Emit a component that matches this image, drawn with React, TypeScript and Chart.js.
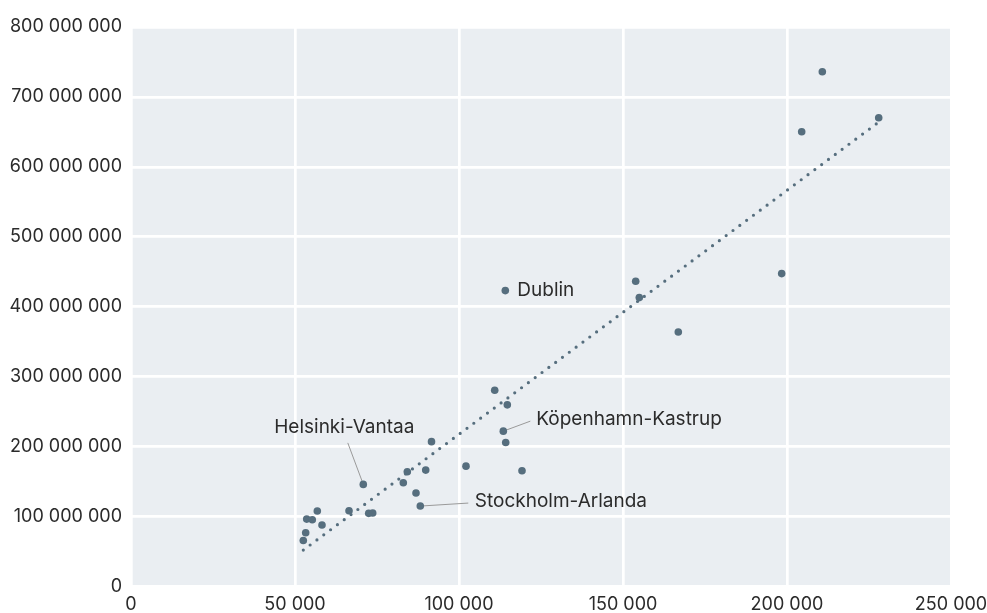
import React, { useEffect, useRef } from "react";
import { Chart, registerables } from "chart.js";

Chart.register(...registerables);

// Data
const xValues = [
  56800, 53570, 55270, 58230, 53260, 52530, 66470, 72470, 73690, 70820,
  83020, 84240, 86890, 88200, 89850, 91620, 102130, 110890, 114730, 113510,
  114240, 119210, 114120, 153870, 154970, 166860, 198380, 204480, 210770, 227960,
];
const yValues = [
  107.9e6, 96.4e6, 95.4e6, 87.9e6, 76.9e6, 65.7e6, 108.3e6, 104.6e6, 105e6, 146e6,
  148.3e6, 164e6, 133.6e6, 115e6, 166.4e6, 207.1e6, 172.1e6, 280.7e6, 259.7e6, 222.1e6,
  206e6, 165.4e6, 423.1e6, 436.4e6, 413.1e6, 363.9e6, 447.4e6, 650.3e6, 736e6, 670.3e6,
];
const trendX = [52530, 227960];
const trendY = [52.1e6, 664e6];

const labelNames = ["Dublin", "Helsinki-Vantaa", "Köpenhamn-Kastrup", "Stockholm-Arlanda"];
const labelPointIndex = [22, 9, 19, 13];

const xTicks = [0, 50000, 100000, 150000, 200000, 250000];
const yTicks = [0, 100e6, 200e6, 300e6, 400e6, 500e6, 600e6, 700e6, 800e6];

// Label placement (pixel offsets from the point)
const labelLayout = [
  { tx: 12, ty: 0, align: "left", line: null },
  { tx: -19, ty: -57.5, align: "center", line: [-15.5, -41.5] },
  { tx: 33, ty: -11.5, align: "left", line: [27, -10] },
  { tx: 54.5, ty: -4.5, align: "left", line: [48, -3] },
];

const FONT = "Inter, 'Noto Sans', sans-serif";
const POINT_COLOR = "#566e7e";
const TEXT_COLOR = "#2b2b2b";

const fmt = (v: number) => String(Math.round(v)).replace(/\B(?=(\d{3})+(?!\d))/g, " ");

export default function App() {
  const ref = useRef<HTMLCanvasElement | null>(null);

  useEffect(() => {
    document.body.style.margin = "0";
    const canvas = ref.current;
    if (!canvas) return;

    const bgPlugin = {
      id: "plotBg",
      beforeDraw(chart: any) {
        const { ctx, chartArea } = chart;
        ctx.save();
        ctx.fillStyle = "#eaeef2";
        ctx.fillRect(chartArea.left, chartArea.top, chartArea.right - chartArea.left, chartArea.bottom - chartArea.top);
        ctx.restore();
      },
    };

    const annPlugin = {
      id: "annotations",
      beforeDatasetsDraw(chart: any) {
        const { ctx, scales } = chart;
        ctx.save();
        ctx.strokeStyle = "#9a9a9a";
        ctx.lineWidth = 1;
        labelNames.forEach((_, i) => {
          const L = labelLayout[i];
          if (!L.line) return;
          const idx = labelPointIndex[i];
          const px = scales.x.getPixelForValue(xValues[idx]);
          const py = scales.y.getPixelForValue(yValues[idx]);
          ctx.beginPath();
          ctx.moveTo(px, py);
          ctx.lineTo(px + L.line[0], py + L.line[1]);
          ctx.stroke();
        });
        ctx.restore();
      },
      afterDatasetsDraw(chart: any) {
        const { ctx, scales } = chart;
        ctx.save();
        ctx.fillStyle = TEXT_COLOR;
        ctx.font = `19px ${FONT}`;
        ctx.textBaseline = "middle";
        labelNames.forEach((name, i) => {
          const L = labelLayout[i];
          const idx = labelPointIndex[i];
          const px = scales.x.getPixelForValue(xValues[idx]);
          const py = scales.y.getPixelForValue(yValues[idx]);
          ctx.textAlign = L.align as CanvasTextAlign;
          ctx.fillText(name, px + L.tx, py + L.ty);
        });
        ctx.restore();
      },
    };

    const chart = new Chart(canvas, {
      type: "scatter",
      data: {
        datasets: [
          {
            type: "line",
            data: trendX.map((x, i) => ({ x, y: trendY[i] })),
            borderColor: POINT_COLOR,
            borderWidth: 3.2,
            borderDash: [0, 8.5],
            borderCapStyle: "round",
            pointRadius: 0,
            fill: false,
            order: 2,
          } as any,
          {
            data: xValues.map((x, i) => ({ x, y: yValues[i] })),
            backgroundColor: POINT_COLOR,
            borderColor: POINT_COLOR,
            borderWidth: 0,
            pointRadius: 3.8,
            order: 1,
          },
        ],
      },
      options: {
        animation: false,
        responsive: true,
        maintainAspectRatio: false,
        layout: { padding: { top: 27, right: 36, left: 0, bottom: 0 } },
        plugins: { legend: { display: false }, tooltip: { enabled: false } },
        scales: {
          x: {
            type: "linear",
            min: 0,
            max: 250000,
            afterBuildTicks: (s: any) => { s.ticks = xTicks.map((v) => ({ value: v })); },
            afterFit: (s: any) => { s.height = 26.5; s.paddingLeft = 0; s.paddingRight = 0; },
            grid: { color: "#ffffff", lineWidth: 2.7, drawTicks: false },
            border: { display: false },
            ticks: {
              padding: 7,
              color: TEXT_COLOR,
              font: { family: FONT, size: 18 },
              maxRotation: 0,
              callback: (v: any) => fmt(Number(v)),
            },
          },
          y: {
            type: "linear",
            min: 0,
            max: 800e6,
            afterBuildTicks: (s: any) => { s.ticks = yTicks.map((v) => ({ value: v })); },
            afterFit: (s: any) => { s.width = 131; s.paddingTop = 0; s.paddingBottom = 0; },
            grid: { color: "#ffffff", lineWidth: 2.7, drawTicks: false },
            border: { display: false },
            ticks: {
              padding: 9,
              color: TEXT_COLOR,
              font: { family: FONT, size: 18 },
              callback: (v: any) => fmt(Number(v)),
            },
          },
        },
      },
      plugins: [bgPlugin, annPlugin],
    });

    return () => chart.destroy();
  }, []);

  return (
    <div style={{ position: "fixed", left: 0, top: 0, width: 987, height: 613 }}>
      <canvas ref={ref} />
    </div>
  );
}
